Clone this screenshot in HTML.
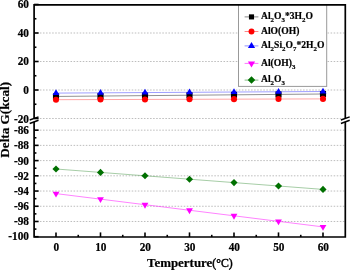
<!DOCTYPE html><html><head><meta charset="utf-8"><style>html,body{margin:0;padding:0;background:#fff}svg{display:block;will-change:transform}text{font-family:"Liberation Serif",serif;font-weight:bold;fill:#000;stroke:#000;stroke-width:0.2px}</style></head><body>
<svg width="350" height="270" viewBox="0 0 350 270">
<rect width="350" height="270" fill="#fff"/>
<line x1="33.800000000000004" x2="345.3" y1="33.00" y2="33.00" stroke="#bdbdbd" stroke-width="1" stroke-dasharray="1.53 1.53"/>
<line x1="33.800000000000004" x2="345.3" y1="61.50" y2="61.50" stroke="#bdbdbd" stroke-width="1" stroke-dasharray="1.53 1.53"/>
<line x1="33.800000000000004" x2="345.3" y1="90.00" y2="90.00" stroke="#bdbdbd" stroke-width="1" stroke-dasharray="1.53 1.53"/>
<line x1="33.800000000000004" x2="345.3" y1="118.50" y2="118.50" stroke="#bdbdbd" stroke-width="1" stroke-dasharray="1.53 1.53"/>
<line x1="33.800000000000004" x2="345.3" y1="130.16" y2="130.16" stroke="#bdbdbd" stroke-width="1" stroke-dasharray="1.53 1.53"/>
<line x1="33.800000000000004" x2="345.3" y1="145.38" y2="145.38" stroke="#bdbdbd" stroke-width="1" stroke-dasharray="1.53 1.53"/>
<line x1="33.800000000000004" x2="345.3" y1="160.60" y2="160.60" stroke="#bdbdbd" stroke-width="1" stroke-dasharray="1.53 1.53"/>
<line x1="33.800000000000004" x2="345.3" y1="175.82" y2="175.82" stroke="#bdbdbd" stroke-width="1" stroke-dasharray="1.53 1.53"/>
<line x1="33.800000000000004" x2="345.3" y1="191.04" y2="191.04" stroke="#bdbdbd" stroke-width="1" stroke-dasharray="1.53 1.53"/>
<line x1="33.800000000000004" x2="345.3" y1="206.26" y2="206.26" stroke="#bdbdbd" stroke-width="1" stroke-dasharray="1.53 1.53"/>
<line x1="33.800000000000004" x2="345.3" y1="221.48" y2="221.48" stroke="#bdbdbd" stroke-width="1" stroke-dasharray="1.53 1.53"/>
<polyline points="56.00,96.45 100.50,96.04 145.00,95.63 189.50,95.22 234.00,94.82 278.50,94.41 323.00,94.00" fill="none" stroke="#000" stroke-width="0.7" stroke-opacity="0.62"/>
<rect x="52.95" y="93.40" width="6.1" height="6.1" fill="#000"/>
<rect x="97.45" y="92.99" width="6.1" height="6.1" fill="#000"/>
<rect x="141.95" y="92.58" width="6.1" height="6.1" fill="#000"/>
<rect x="186.45" y="92.17" width="6.1" height="6.1" fill="#000"/>
<rect x="230.95" y="91.77" width="6.1" height="6.1" fill="#000"/>
<rect x="275.45" y="91.36" width="6.1" height="6.1" fill="#000"/>
<rect x="319.95" y="90.95" width="6.1" height="6.1" fill="#000"/>
<polyline points="56.00,99.70 100.50,99.57 145.00,99.43 189.50,99.30 234.00,99.17 278.50,99.03 323.00,98.90" fill="none" stroke="#f00" stroke-width="0.7" stroke-opacity="0.5"/>
<circle cx="56.00" cy="99.70" r="3.05" fill="#f00"/>
<circle cx="100.50" cy="99.57" r="3.05" fill="#f00"/>
<circle cx="145.00" cy="99.43" r="3.05" fill="#f00"/>
<circle cx="189.50" cy="99.30" r="3.05" fill="#f00"/>
<circle cx="234.00" cy="99.17" r="3.05" fill="#f00"/>
<circle cx="278.50" cy="99.03" r="3.05" fill="#f00"/>
<circle cx="323.00" cy="98.90" r="3.05" fill="#f00"/>
<polyline points="56.00,93.10 100.50,92.83 145.00,92.57 189.50,92.30 234.00,92.03 278.50,91.77 323.00,91.50" fill="none" stroke="#00f" stroke-width="0.7" stroke-opacity="0.55"/>
<polygon points="56.00,89.30 52.60,95.00 59.40,95.00" fill="#00f"/>
<polygon points="100.50,89.03 97.10,94.73 103.90,94.73" fill="#00f"/>
<polygon points="145.00,88.77 141.60,94.47 148.40,94.47" fill="#00f"/>
<polygon points="189.50,88.50 186.10,94.20 192.90,94.20" fill="#00f"/>
<polygon points="234.00,88.23 230.60,93.93 237.40,93.93" fill="#00f"/>
<polygon points="278.50,87.97 275.10,93.67 281.90,93.67" fill="#00f"/>
<polygon points="323.00,87.70 319.60,93.40 326.40,93.40" fill="#00f"/>
<polyline points="56.00,193.60 100.50,199.15 145.00,204.70 189.50,210.25 234.00,215.80 278.50,221.35 323.00,226.90" fill="none" stroke="#f0f" stroke-width="0.7" stroke-opacity="0.7"/>
<polygon points="56.00,197.53 52.60,191.63 59.40,191.63" fill="#f0f"/>
<polygon points="100.50,203.08 97.10,197.18 103.90,197.18" fill="#f0f"/>
<polygon points="145.00,208.63 141.60,202.73 148.40,202.73" fill="#f0f"/>
<polygon points="189.50,214.18 186.10,208.28 192.90,208.28" fill="#f0f"/>
<polygon points="234.00,219.73 230.60,213.83 237.40,213.83" fill="#f0f"/>
<polygon points="278.50,225.28 275.10,219.38 281.90,219.38" fill="#f0f"/>
<polygon points="323.00,230.83 319.60,224.93 326.40,224.93" fill="#f0f"/>
<polyline points="56.00,169.00 100.50,172.40 145.00,175.80 189.50,179.20 234.00,182.60 278.50,186.00 323.00,189.40" fill="none" stroke="#007000" stroke-width="0.7" stroke-opacity="0.5"/>
<polygon points="56.00,165.45 59.55,169.00 56.00,172.55 52.45,169.00" fill="#007000"/>
<polygon points="100.50,168.85 104.05,172.40 100.50,175.95 96.95,172.40" fill="#007000"/>
<polygon points="145.00,172.25 148.55,175.80 145.00,179.35 141.45,175.80" fill="#007000"/>
<polygon points="189.50,175.65 193.05,179.20 189.50,182.75 185.95,179.20" fill="#007000"/>
<polygon points="234.00,179.05 237.55,182.60 234.00,186.15 230.45,182.60" fill="#007000"/>
<polygon points="278.50,182.45 282.05,186.00 278.50,189.55 274.95,186.00" fill="#007000"/>
<polygon points="323.00,185.85 326.55,189.40 323.00,192.95 319.45,189.40" fill="#007000"/>
<rect x="238.5" y="4.6" width="88.19999999999999" height="81.80000000000001" fill="#fff" stroke="#999" stroke-width="1"/>
<line x1="244.6" x2="258.4" y1="16.9" y2="16.9" stroke="#000" stroke-width="0.8" stroke-opacity="0.6"/>
<rect x="248.95" y="14.35" width="5.1" height="5.1" fill="#000"/>
<line x1="244.6" x2="258.4" y1="31.5" y2="31.5" stroke="#f00" stroke-width="0.8" stroke-opacity="0.6"/>
<circle cx="251.50" cy="31.50" r="2.95" fill="#f00"/>
<line x1="244.6" x2="258.4" y1="45.9" y2="45.9" stroke="#00f" stroke-width="0.8" stroke-opacity="0.55"/>
<polygon points="251.50,41.90 247.90,47.90 255.10,47.90" fill="#00f"/>
<line x1="244.6" x2="258.4" y1="63.4" y2="63.4" stroke="#f0f" stroke-width="0.8" stroke-opacity="0.7"/>
<polygon points="251.50,67.40 247.90,61.40 255.10,61.40" fill="#f0f"/>
<line x1="244.6" x2="258.4" y1="80.1" y2="80.1" stroke="#007000" stroke-width="0.8" stroke-opacity="0.6"/>
<polygon points="251.50,76.35 255.25,80.10 251.50,83.85 247.75,80.10" fill="#007000"/>
<text x="261" y="19.10" font-size="9.6">Al<tspan dy="2.9" font-size="6.9">2</tspan><tspan dy="-2.9" font-size="0.1">&#8203;</tspan>O<tspan dy="2.9" font-size="6.9">3</tspan><tspan dy="-2.9" font-size="0.1">&#8203;</tspan>*3H<tspan dy="2.9" font-size="6.9">2</tspan><tspan dy="-2.9" font-size="0.1">&#8203;</tspan>O</text>
<text x="261" y="33.70" font-size="9.6">AlO(OH)</text>
<text x="261" y="48.10" font-size="9.6">Al<tspan dy="2.9" font-size="6.9">2</tspan><tspan dy="-2.9" font-size="0.1">&#8203;</tspan>Si<tspan dy="2.9" font-size="6.9">2</tspan><tspan dy="-2.9" font-size="0.1">&#8203;</tspan>O<tspan dy="2.9" font-size="6.9">7</tspan><tspan dy="-2.9" font-size="0.1">&#8203;</tspan>*2H<tspan dy="2.9" font-size="6.9">2</tspan><tspan dy="-2.9" font-size="0.1">&#8203;</tspan>O</text>
<text x="261" y="65.60" font-size="9.6">Al(OH)<tspan dy="2.9" font-size="6.9">3</tspan><tspan dy="-2.9" font-size="0.1">&#8203;</tspan></text>
<text x="261" y="82.30" font-size="9.6">Al<tspan dy="2.9" font-size="6.9">2</tspan><tspan dy="-2.9" font-size="0.1">&#8203;</tspan>O<tspan dy="2.9" font-size="6.9">3</tspan><tspan dy="-2.9" font-size="0.1">&#8203;</tspan></text>
<path d="M34.1,118.95 V4.85 H345.3 V118.95 M345.3,121.35000000000001 V237.0 H34.1 V121.35000000000001" fill="none" stroke="#000" stroke-width="1.7" stroke-linejoin="miter" stroke-linecap="butt"/>
<rect x="32.1" y="118.45" width="4" height="3.4" fill="#fff"/>
<line x1="29.70" y1="120.05" x2="38.50" y2="116.85" stroke="#000" stroke-width="1.5"/>
<line x1="29.70" y1="123.45" x2="38.50" y2="120.25" stroke="#000" stroke-width="1.5"/>
<rect x="343.3" y="118.45" width="4" height="3.4" fill="#fff"/>
<line x1="340.90" y1="120.05" x2="349.70" y2="116.85" stroke="#000" stroke-width="1.5"/>
<line x1="340.90" y1="123.45" x2="349.70" y2="120.25" stroke="#000" stroke-width="1.5"/>
<line x1="34.1" x2="38.6" y1="4.50" y2="4.50" stroke="#000" stroke-width="1.6"/>
<line x1="34.1" x2="38.6" y1="33.00" y2="33.00" stroke="#000" stroke-width="1.6"/>
<line x1="34.1" x2="38.6" y1="61.50" y2="61.50" stroke="#000" stroke-width="1.6"/>
<line x1="34.1" x2="38.6" y1="90.00" y2="90.00" stroke="#000" stroke-width="1.6"/>
<line x1="34.1" x2="38.6" y1="118.50" y2="118.50" stroke="#000" stroke-width="1.6"/>
<line x1="34.1" x2="36.4" y1="18.75" y2="18.75" stroke="#000" stroke-width="1.6"/>
<line x1="34.1" x2="36.4" y1="47.25" y2="47.25" stroke="#000" stroke-width="1.6"/>
<line x1="34.1" x2="36.4" y1="75.75" y2="75.75" stroke="#000" stroke-width="1.6"/>
<line x1="34.1" x2="36.4" y1="104.25" y2="104.25" stroke="#000" stroke-width="1.6"/>
<line x1="34.1" x2="38.6" y1="130.16" y2="130.16" stroke="#000" stroke-width="1.6"/>
<line x1="34.1" x2="38.6" y1="145.38" y2="145.38" stroke="#000" stroke-width="1.6"/>
<line x1="34.1" x2="38.6" y1="160.60" y2="160.60" stroke="#000" stroke-width="1.6"/>
<line x1="34.1" x2="38.6" y1="175.82" y2="175.82" stroke="#000" stroke-width="1.6"/>
<line x1="34.1" x2="38.6" y1="191.04" y2="191.04" stroke="#000" stroke-width="1.6"/>
<line x1="34.1" x2="38.6" y1="206.26" y2="206.26" stroke="#000" stroke-width="1.6"/>
<line x1="34.1" x2="38.6" y1="221.48" y2="221.48" stroke="#000" stroke-width="1.6"/>
<line x1="34.1" x2="38.6" y1="236.70" y2="236.70" stroke="#000" stroke-width="1.6"/>
<line x1="34.1" x2="36.4" y1="137.77" y2="137.77" stroke="#000" stroke-width="1.6"/>
<line x1="34.1" x2="36.4" y1="152.99" y2="152.99" stroke="#000" stroke-width="1.6"/>
<line x1="34.1" x2="36.4" y1="168.21" y2="168.21" stroke="#000" stroke-width="1.6"/>
<line x1="34.1" x2="36.4" y1="183.43" y2="183.43" stroke="#000" stroke-width="1.6"/>
<line x1="34.1" x2="36.4" y1="198.65" y2="198.65" stroke="#000" stroke-width="1.6"/>
<line x1="34.1" x2="36.4" y1="213.87" y2="213.87" stroke="#000" stroke-width="1.6"/>
<line x1="34.1" x2="36.4" y1="229.09" y2="229.09" stroke="#000" stroke-width="1.6"/>
<line y1="237.0" y2="232.4" x1="56.00" x2="56.00" stroke="#000" stroke-width="1.6"/>
<line y1="237.0" y2="232.4" x1="100.50" x2="100.50" stroke="#000" stroke-width="1.6"/>
<line y1="237.0" y2="232.4" x1="145.00" x2="145.00" stroke="#000" stroke-width="1.6"/>
<line y1="237.0" y2="232.4" x1="189.50" x2="189.50" stroke="#000" stroke-width="1.6"/>
<line y1="237.0" y2="232.4" x1="234.00" x2="234.00" stroke="#000" stroke-width="1.6"/>
<line y1="237.0" y2="232.4" x1="278.50" x2="278.50" stroke="#000" stroke-width="1.6"/>
<line y1="237.0" y2="232.4" x1="323.00" x2="323.00" stroke="#000" stroke-width="1.6"/>
<line y1="237.0" y2="234.8" x1="78.25" x2="78.25" stroke="#000" stroke-width="1.6"/>
<line y1="237.0" y2="234.8" x1="122.75" x2="122.75" stroke="#000" stroke-width="1.6"/>
<line y1="237.0" y2="234.8" x1="167.25" x2="167.25" stroke="#000" stroke-width="1.6"/>
<line y1="237.0" y2="234.8" x1="211.75" x2="211.75" stroke="#000" stroke-width="1.6"/>
<line y1="237.0" y2="234.8" x1="256.25" x2="256.25" stroke="#000" stroke-width="1.6"/>
<line y1="237.0" y2="234.8" x1="300.75" x2="300.75" stroke="#000" stroke-width="1.6"/>
<text transform="translate(29.0,8.00) scale(0.95,1)" font-size="11.9" text-anchor="end">60</text>
<text transform="translate(29.0,36.50) scale(0.95,1)" font-size="11.9" text-anchor="end">40</text>
<text transform="translate(29.0,65.00) scale(0.95,1)" font-size="11.9" text-anchor="end">20</text>
<text transform="translate(29.0,93.50) scale(0.95,1)" font-size="11.9" text-anchor="end">0</text>
<text transform="translate(29.0,122.50) scale(0.95,1)" font-size="11.9" text-anchor="end">-20</text>
<text transform="translate(29.0,133.56) scale(0.95,1)" font-size="11.9" text-anchor="end">-86</text>
<text transform="translate(29.0,149.28) scale(0.95,1)" font-size="11.9" text-anchor="end">-88</text>
<text transform="translate(29.0,164.50) scale(0.95,1)" font-size="11.9" text-anchor="end">-90</text>
<text transform="translate(29.0,179.72) scale(0.95,1)" font-size="11.9" text-anchor="end">-92</text>
<text transform="translate(29.0,194.94) scale(0.95,1)" font-size="11.9" text-anchor="end">-94</text>
<text transform="translate(29.0,210.16) scale(0.95,1)" font-size="11.9" text-anchor="end">-96</text>
<text transform="translate(29.0,225.38) scale(0.95,1)" font-size="11.9" text-anchor="end">-98</text>
<text transform="translate(29.0,240.10) scale(0.95,1)" font-size="11.9" text-anchor="end">-100</text>
<text transform="translate(56.30,250.8) scale(0.95,1)" font-size="11.9" text-anchor="middle">0</text>
<text transform="translate(100.80,250.8) scale(0.95,1)" font-size="11.9" text-anchor="middle">10</text>
<text transform="translate(145.30,250.8) scale(0.95,1)" font-size="11.9" text-anchor="middle">20</text>
<text transform="translate(189.80,250.8) scale(0.95,1)" font-size="11.9" text-anchor="middle">30</text>
<text transform="translate(234.30,250.8) scale(0.95,1)" font-size="11.9" text-anchor="middle">40</text>
<text transform="translate(278.80,250.8) scale(0.95,1)" font-size="11.9" text-anchor="middle">50</text>
<text transform="translate(323.30,250.8) scale(0.95,1)" font-size="11.9" text-anchor="middle">60</text>
<text x="147" y="267.2" font-size="13" textLength="65.3" lengthAdjust="spacingAndGlyphs">Temperture</text>
<text x="212.3" y="267.2" font-size="12.4" textLength="20.4" lengthAdjust="spacingAndGlyphs" style="font-weight:normal;stroke-width:0.45px">(°C)</text>
<text transform="translate(9.1,119.8) rotate(-90)" font-size="13.2" text-anchor="middle">Delta G(kcal)</text>
</svg></body></html>
